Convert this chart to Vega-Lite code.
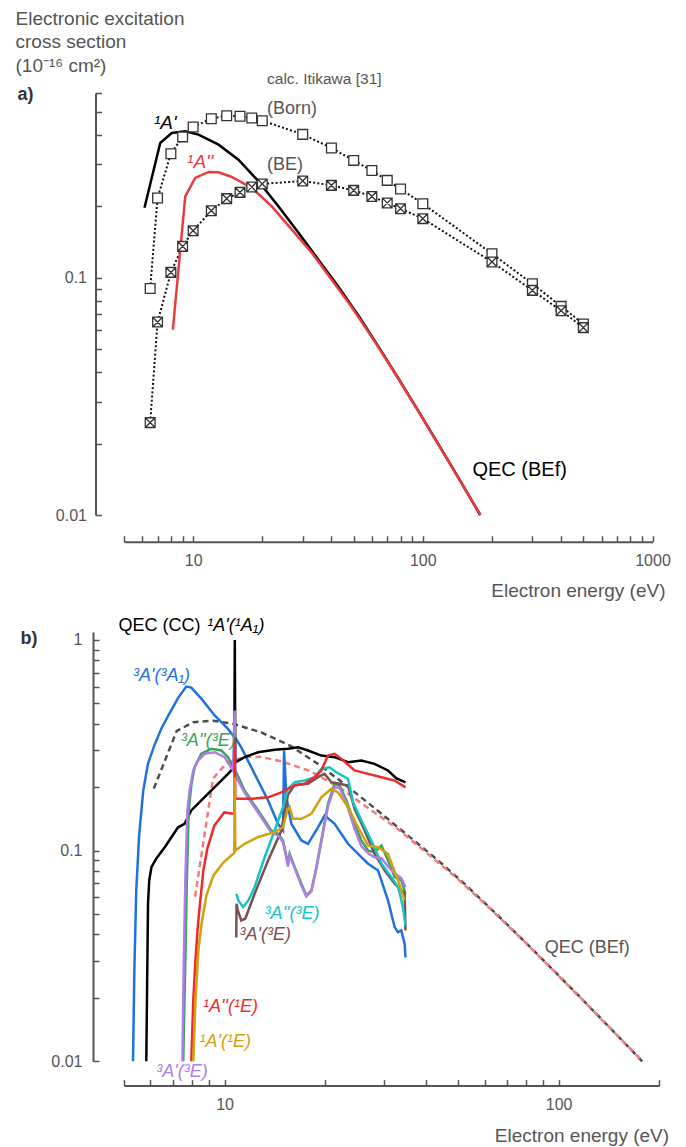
{
  "$schema": "https://vega.github.io/schema/vega-lite/v6.json",
  "background": "white",
  "padding": {"left": 15, "top": 9, "right": 5, "bottom": 5},
  "autosize": {"type": "pad"},
  "spacing": 117,
  "bounds": "flush",
  "config": {
    "view": {"stroke": null},
    "font": "Liberation Sans",
    "axis": {
      "grid": false,
      "domainColor": "#555555",
      "domainWidth": 2,
      "tickColor": "#555555",
      "tickWidth": 1.5,
      "tickSize": -6,
      "labelColor": "#555555",
      "labelFont": "Liberation Sans",
      "labelFontSize": 16,
      "labelOverlap": false,
      "labelFlush": false,
      "labelBound": false,
      "titleFont": "Liberation Sans",
      "titleFontSize": 19,
      "titleFontWeight": "normal",
      "titleColor": "#555555"
    }
  },
  "datasets": {
    "bef": [
      {"s": "1A'", "x": 6.14, "y": 0.197}, {"s": "1A'", "x": 7.19, "y": 0.3695}, {"s": "1A'", "x": 8.07, "y": 0.407}, {"s": "1A'", "x": 9.24, "y": 0.4135}, {"s": "1A'", "x": 10.55, "y": 0.4005}, {"s": "1A'", "x": 12.9, "y": 0.3635}, {"s": "1A'", "x": 15.75, "y": 0.3143}, {"s": "1A'", "x": 19.26, "y": 0.2546}, {"s": "1A'", "x": 23.5, "y": 0.1998}, {"s": "1A'", "x": 28.75, "y": 0.1547}, {"s": "1A'", "x": 35.1, "y": 0.1191}, {"s": "1A'", "x": 42.9, "y": 0.0917}, {"s": "1A'", "x": 52.5, "y": 0.0691}, {"s": "1A'", "x": 64.1, "y": 0.0512}, {"s": "1A'", "x": 78.3, "y": 0.0376}, {"s": "1A'", "x": 95.7, "y": 0.0274}, {"s": "1A'", "x": 117, "y": 0.01985}, {"s": "1A'", "x": 143, "y": 0.01433}, {"s": "1A'", "x": 177.8, "y": 0.01},
      {"s": "1A''", "x": 8.16, "y": 0.0604}, {"s": "1A''", "x": 9.24, "y": 0.22}, {"s": "1A''", "x": 10.21, "y": 0.2632}, {"s": "1A''", "x": 11.67, "y": 0.2789}, {"s": "1A''", "x": 12.9, "y": 0.2778}, {"s": "1A''", "x": 14.73, "y": 0.2657}, {"s": "1A''", "x": 18.0, "y": 0.2388}, {"s": "1A''", "x": 22.0, "y": 0.1998}, {"s": "1A''", "x": 26.9, "y": 0.1593}, {"s": "1A''", "x": 32.9, "y": 0.1271}, {"s": "1A''", "x": 40.1, "y": 0.0981}, {"s": "1A''", "x": 49.0, "y": 0.0752}, {"s": "1A''", "x": 62.0, "y": 0.0535}, {"s": "1A''", "x": 78.3, "y": 0.0375}, {"s": "1A''", "x": 95.7, "y": 0.02732}, {"s": "1A''", "x": 117, "y": 0.01981}, {"s": "1A''", "x": 143, "y": 0.01431}, {"s": "1A''", "x": 178.5, "y": 0.01}
    ],
    "itikawa": [
      {"s": "Born", "x": 6.5, "y": 0.09}, {"s": "Born", "x": 7, "y": 0.2167}, {"s": "Born", "x": 8, "y": 0.333}, {"s": "Born", "x": 9, "y": 0.392}, {"s": "Born", "x": 10, "y": 0.4315}, {"s": "Born", "x": 12, "y": 0.4677}, {"s": "Born", "x": 14, "y": 0.4816}, {"s": "Born", "x": 16, "y": 0.4785}, {"s": "Born", "x": 18, "y": 0.471}, {"s": "Born", "x": 20, "y": 0.4587}, {"s": "Born", "x": 30, "y": 0.4017}, {"s": "Born", "x": 40, "y": 0.352}, {"s": "Born", "x": 50, "y": 0.312}, {"s": "Born", "x": 60, "y": 0.283}, {"s": "Born", "x": 70, "y": 0.257}, {"s": "Born", "x": 80, "y": 0.2364}, {"s": "Born", "x": 100, "y": 0.205}, {"s": "Born", "x": 200, "y": 0.1262}, {"s": "Born", "x": 300, "y": 0.0943}, {"s": "Born", "x": 400, "y": 0.0757}, {"s": "Born", "x": 500, "y": 0.0638},
      {"s": "BE", "x": 6.5, "y": 0.0245}, {"s": "BE", "x": 7, "y": 0.065}, {"s": "BE", "x": 8, "y": 0.1053}, {"s": "BE", "x": 9, "y": 0.1355}, {"s": "BE", "x": 10, "y": 0.1578}, {"s": "BE", "x": 12, "y": 0.1916}, {"s": "BE", "x": 14, "y": 0.2153}, {"s": "BE", "x": 16, "y": 0.2288}, {"s": "BE", "x": 18, "y": 0.241}, {"s": "BE", "x": 20, "y": 0.2483}, {"s": "BE", "x": 30, "y": 0.2556}, {"s": "BE", "x": 40, "y": 0.2449}, {"s": "BE", "x": 50, "y": 0.2333}, {"s": "BE", "x": 60, "y": 0.22}, {"s": "BE", "x": 70, "y": 0.2064}, {"s": "BE", "x": 80, "y": 0.1953}, {"s": "BE", "x": 100, "y": 0.1773}, {"s": "BE", "x": 200, "y": 0.1165}, {"s": "BE", "x": 300, "y": 0.0884}, {"s": "BE", "x": 400, "y": 0.0726}, {"s": "BE", "x": 500, "y": 0.0616}
    ],
    "cc": [
      {"s": "3A'(3A1)", "x": 5.32, "y": 0.01}, {"s": "3A'(3A1)", "x": 5.37, "y": 0.027}, {"s": "3A'(3A1)", "x": 5.44, "y": 0.0646}, {"s": "3A'(3A1)", "x": 5.55, "y": 0.118}, {"s": "3A'(3A1)", "x": 5.71, "y": 0.193}, {"s": "3A'(3A1)", "x": 5.9, "y": 0.259}, {"s": "3A'(3A1)", "x": 6.16, "y": 0.315}, {"s": "3A'(3A1)", "x": 6.47, "y": 0.38}, {"s": "3A'(3A1)", "x": 6.79, "y": 0.438}, {"s": "3A'(3A1)", "x": 7.27, "y": 0.532}, {"s": "3A'(3A1)", "x": 7.68, "y": 0.6}, {"s": "3A'(3A1)", "x": 7.95, "y": 0.594}, {"s": "3A'(3A1)", "x": 8.52, "y": 0.526}, {"s": "3A'(3A1)", "x": 9.34, "y": 0.438}, {"s": "3A'(3A1)", "x": 10.24, "y": 0.378}, {"s": "3A'(3A1)", "x": 10.6, "y": 0.352}, {"s": "3A'(3A1)", "x": 10.75, "y": 0.345}, {"s": "3A'(3A1)", "x": 11.22, "y": 0.309}, {"s": "3A'(3A1)", "x": 12.3, "y": 0.2313}, {"s": "3A'(3A1)", "x": 13.5, "y": 0.1729}, {"s": "3A'(3A1)", "x": 14.45, "y": 0.134}, {"s": "3A'(3A1)", "x": 14.96, "y": 0.1245}, {"s": "3A'(3A1)", "x": 15.07, "y": 0.2985}, {"s": "3A'(3A1)", "x": 15.31, "y": 0.179}, {"s": "3A'(3A1)", "x": 15.85, "y": 0.134}, {"s": "3A'(3A1)", "x": 16.98, "y": 0.1117}, {"s": "3A'(3A1)", "x": 17.77, "y": 0.1077}, {"s": "3A'(3A1)", "x": 19.04, "y": 0.129}, {"s": "3A'(3A1)", "x": 19.93, "y": 0.1467}, {"s": "3A'(3A1)", "x": 21.35, "y": 0.134}, {"s": "3A'(3A1)", "x": 23.42, "y": 0.1077}, {"s": "3A'(3A1)", "x": 25.67, "y": 0.093}, {"s": "3A'(3A1)", "x": 26.9, "y": 0.0866}, {"s": "3A'(3A1)", "x": 28.8, "y": 0.0805}, {"s": "3A'(3A1)", "x": 30.85, "y": 0.058}, {"s": "3A'(3A1)", "x": 32.3, "y": 0.0433}, {"s": "3A'(3A1)", "x": 33.05, "y": 0.041}, {"s": "3A'(3A1)", "x": 33.8, "y": 0.0418}, {"s": "3A'(3A1)", "x": 34.6, "y": 0.0361}, {"s": "3A'(3A1)", "x": 34.8, "y": 0.0311},
      {"s": "1A'(1A1)", "x": 5.83, "y": 0.01}, {"s": "1A'(1A1)", "x": 5.9, "y": 0.056}, {"s": "1A'(1A1)", "x": 5.95, "y": 0.0722}, {"s": "1A'(1A1)", "x": 6.04, "y": 0.0834}, {"s": "1A'(1A1)", "x": 6.25, "y": 0.0918}, {"s": "1A'(1A1)", "x": 6.62, "y": 0.1038}, {"s": "1A'(1A1)", "x": 7.26, "y": 0.129}, {"s": "1A'(1A1)", "x": 7.59, "y": 0.134}, {"s": "1A'(1A1)", "x": 7.95, "y": 0.155}, {"s": "1A'(1A1)", "x": 8.52, "y": 0.173}, {"s": "1A'(1A1)", "x": 9.34, "y": 0.2}, {"s": "1A'(1A1)", "x": 10.24, "y": 0.2313}, {"s": "1A'(1A1)", "x": 10.69, "y": 0.249}, {"s": "1A'(1A1)", "x": 10.73, "y": 1.0}, {"s": "1A'(1A1)", "x": 10.77, "y": 0.262}, {"s": "1A'(1A1)", "x": 11.48, "y": 0.2775}, {"s": "1A'(1A1)", "x": 12.6, "y": 0.293}, {"s": "1A'(1A1)", "x": 14.12, "y": 0.301}, {"s": "1A'(1A1)", "x": 15.48, "y": 0.304}, {"s": "1A'(1A1)", "x": 16.59, "y": 0.309}, {"s": "1A'(1A1)", "x": 17.78, "y": 0.2985}, {"s": "1A'(1A1)", "x": 19.48, "y": 0.2825}, {"s": "1A'(1A1)", "x": 21.35, "y": 0.2775}, {"s": "1A'(1A1)", "x": 23.42, "y": 0.2627}, {"s": "1A'(1A1)", "x": 25.67, "y": 0.2676}, {"s": "1A'(1A1)", "x": 28.1, "y": 0.258}, {"s": "1A'(1A1)", "x": 30.85, "y": 0.24}, {"s": "1A'(1A1)", "x": 32.7, "y": 0.22}, {"s": "1A'(1A1)", "x": 34.8, "y": 0.2105},
      {"s": "3A''(3E)a", "x": 7.52, "y": 0.01}, {"s": "3A''(3E)a", "x": 7.63, "y": 0.0301}, {"s": "3A''(3E)a", "x": 7.71, "y": 0.0722}, {"s": "3A''(3E)a", "x": 7.81, "y": 0.155}, {"s": "3A''(3E)a", "x": 7.95, "y": 0.2037}, {"s": "3A''(3E)a", "x": 8.13, "y": 0.2487}, {"s": "3A''(3E)a", "x": 8.52, "y": 0.288}, {"s": "3A''(3E)a", "x": 9.13, "y": 0.304}, {"s": "3A''(3E)a", "x": 9.78, "y": 0.2985}, {"s": "3A''(3E)a", "x": 10.24, "y": 0.2775}, {"s": "3A''(3E)a", "x": 10.6, "y": 0.249}, {"s": "3A''(3E)a", "x": 10.77, "y": 0.24}, {"s": "3A''(3E)a", "x": 11.48, "y": 0.193}, {"s": "3A''(3E)a", "x": 12.6, "y": 0.155}, {"s": "3A''(3E)a", "x": 13.8, "y": 0.1245}, {"s": "3A''(3E)a", "x": 14.45, "y": 0.1202}, {"s": "3A''(3E)a", "x": 14.96, "y": 0.1117}, {"s": "3A''(3E)a", "x": 15.48, "y": 0.0866}, {"s": "3A''(3E)a", "x": 15.66, "y": 0.0966}, {"s": "3A''(3E)a", "x": 16.22, "y": 0.0834}, {"s": "3A''(3E)a", "x": 16.98, "y": 0.0696}, {"s": "3A''(3E)a", "x": 17.57, "y": 0.0612}, {"s": "3A''(3E)a", "x": 18.19, "y": 0.0647}, {"s": "3A''(3E)a", "x": 18.83, "y": 0.0834}, {"s": "3A''(3E)a", "x": 19.48, "y": 0.1117}, {"s": "3A''(3E)a", "x": 20.4, "y": 0.1667}, {"s": "3A''(3E)a", "x": 21.35, "y": 0.2075}, {"s": "3A''(3E)a", "x": 22.1, "y": 0.2037}, {"s": "3A''(3E)a", "x": 23.16, "y": 0.173}, {"s": "3A''(3E)a", "x": 24.5, "y": 0.134}, {"s": "3A''(3E)a", "x": 25.67, "y": 0.1117}, {"s": "3A''(3E)a", "x": 26.9, "y": 0.1}, {"s": "3A''(3E)a", "x": 28.1, "y": 0.0983}, {"s": "3A''(3E)a", "x": 29.5, "y": 0.1057}, {"s": "3A''(3E)a", "x": 30.85, "y": 0.0898}, {"s": "3A''(3E)a", "x": 32.3, "y": 0.0748}, {"s": "3A''(3E)a", "x": 33.8, "y": 0.0722}, {"s": "3A''(3E)a", "x": 34.8, "y": 0.0624},
      {"s": "3A'(3E)b", "x": 10.84, "y": 0.0387}, {"s": "3A'(3E)b", "x": 10.86, "y": 0.0559}, {"s": "3A'(3E)b", "x": 10.96, "y": 0.052}, {"s": "3A'(3E)b", "x": 11.22, "y": 0.0466}, {"s": "3A'(3E)b", "x": 11.54, "y": 0.0476}, {"s": "3A'(3E)b", "x": 12.3, "y": 0.0624}, {"s": "3A'(3E)b", "x": 13.5, "y": 0.0898}, {"s": "3A'(3E)b", "x": 14.79, "y": 0.1245}, {"s": "3A'(3E)b", "x": 15.48, "y": 0.184}, {"s": "3A'(3E)b", "x": 16.22, "y": 0.205}, {"s": "3A'(3E)b", "x": 17.77, "y": 0.2075}, {"s": "3A'(3E)b", "x": 19.04, "y": 0.2231}, {"s": "3A'(3E)b", "x": 19.93, "y": 0.2313}, {"s": "3A'(3E)b", "x": 20.88, "y": 0.2111}, {"s": "3A'(3E)b", "x": 22.1, "y": 0.2075}, {"s": "3A'(3E)b", "x": 23.42, "y": 0.2037}, {"s": "3A'(3E)b", "x": 24.5, "y": 0.158}, {"s": "3A'(3E)b", "x": 26.26, "y": 0.1245}, {"s": "3A'(3E)b", "x": 28.1, "y": 0.0966}, {"s": "3A'(3E)b", "x": 30.15, "y": 0.0805}, {"s": "3A'(3E)b", "x": 32.3, "y": 0.0696}, {"s": "3A'(3E)b", "x": 34.6, "y": 0.0624}, {"s": "3A'(3E)b", "x": 34.8, "y": 0.0418},
      {"s": "3A''(3E)b", "x": 10.85, "y": 0.0624}, {"s": "3A''(3E)b", "x": 11.0, "y": 0.058}, {"s": "3A''(3E)b", "x": 11.36, "y": 0.054}, {"s": "3A''(3E)b", "x": 11.78, "y": 0.058}, {"s": "3A''(3E)b", "x": 12.3, "y": 0.067}, {"s": "3A''(3E)b", "x": 13.18, "y": 0.093}, {"s": "3A''(3E)b", "x": 14.12, "y": 0.1245}, {"s": "3A''(3E)b", "x": 14.96, "y": 0.1607}, {"s": "3A''(3E)b", "x": 15.48, "y": 0.1964}, {"s": "3A''(3E)b", "x": 16.22, "y": 0.2111}, {"s": "3A''(3E)b", "x": 17.37, "y": 0.215}, {"s": "3A''(3E)b", "x": 18.6, "y": 0.2231}, {"s": "3A''(3E)b", "x": 19.48, "y": 0.2443}, {"s": "3A''(3E)b", "x": 20.63, "y": 0.2487}, {"s": "3A''(3E)b", "x": 21.6, "y": 0.2354}, {"s": "3A''(3E)b", "x": 23.42, "y": 0.2192}, {"s": "3A''(3E)b", "x": 24.24, "y": 0.17}, {"s": "3A''(3E)b", "x": 25.67, "y": 0.139}, {"s": "3A''(3E)b", "x": 27.5, "y": 0.1117}, {"s": "3A''(3E)b", "x": 29.5, "y": 0.0866}, {"s": "3A''(3E)b", "x": 31.6, "y": 0.0748}, {"s": "3A''(3E)b", "x": 33.1, "y": 0.067}, {"s": "3A''(3E)b", "x": 34.2, "y": 0.0539}, {"s": "3A''(3E)b", "x": 34.8, "y": 0.0441},
      {"s": "3A'(3E)a", "x": 7.48, "y": 0.01}, {"s": "3A'(3E)a", "x": 7.55, "y": 0.0301}, {"s": "3A'(3E)a", "x": 7.63, "y": 0.0722}, {"s": "3A'(3E)a", "x": 7.74, "y": 0.155}, {"s": "3A'(3E)a", "x": 7.86, "y": 0.193}, {"s": "3A'(3E)a", "x": 8.06, "y": 0.24}, {"s": "3A'(3E)a", "x": 8.33, "y": 0.2676}, {"s": "3A'(3E)a", "x": 8.72, "y": 0.288}, {"s": "3A'(3E)a", "x": 9.34, "y": 0.293}, {"s": "3A'(3E)a", "x": 10.0, "y": 0.2775}, {"s": "3A'(3E)a", "x": 10.6, "y": 0.24}, {"s": "3A'(3E)a", "x": 10.72, "y": 0.462}, {"s": "3A'(3E)a", "x": 10.77, "y": 0.227}, {"s": "3A'(3E)a", "x": 11.48, "y": 0.1887}, {"s": "3A'(3E)a", "x": 12.6, "y": 0.1516}, {"s": "3A'(3E)a", "x": 13.8, "y": 0.122}, {"s": "3A'(3E)a", "x": 14.45, "y": 0.118}, {"s": "3A'(3E)a", "x": 14.96, "y": 0.11}, {"s": "3A'(3E)a", "x": 15.48, "y": 0.084}, {"s": "3A'(3E)a", "x": 15.66, "y": 0.095}, {"s": "3A'(3E)a", "x": 16.22, "y": 0.0823}, {"s": "3A'(3E)a", "x": 16.98, "y": 0.068}, {"s": "3A'(3E)a", "x": 17.57, "y": 0.0606}, {"s": "3A'(3E)a", "x": 18.19, "y": 0.064}, {"s": "3A'(3E)a", "x": 18.83, "y": 0.0823}, {"s": "3A'(3E)a", "x": 19.48, "y": 0.11}, {"s": "3A'(3E)a", "x": 20.4, "y": 0.162}, {"s": "3A'(3E)a", "x": 21.35, "y": 0.2}, {"s": "3A'(3E)a", "x": 22.1, "y": 0.198}, {"s": "3A'(3E)a", "x": 23.16, "y": 0.168}, {"s": "3A'(3E)a", "x": 24.5, "y": 0.127}, {"s": "3A'(3E)a", "x": 25.67, "y": 0.105}, {"s": "3A'(3E)a", "x": 26.9, "y": 0.097}, {"s": "3A'(3E)a", "x": 28.1, "y": 0.093}, {"s": "3A'(3E)a", "x": 29.5, "y": 0.092}, {"s": "3A'(3E)a", "x": 30.85, "y": 0.084}, {"s": "3A'(3E)a", "x": 32.3, "y": 0.0778}, {"s": "3A'(3E)a", "x": 33.8, "y": 0.074}, {"s": "3A'(3E)a", "x": 34.8, "y": 0.0669},
      {"s": "1A''(1E)", "x": 7.95, "y": 0.01}, {"s": "1A''(1E)", "x": 8.06, "y": 0.0194}, {"s": "1A''(1E)", "x": 8.18, "y": 0.0301}, {"s": "1A''(1E)", "x": 8.32, "y": 0.0441}, {"s": "1A''(1E)", "x": 8.46, "y": 0.058}, {"s": "1A''(1E)", "x": 8.64, "y": 0.0804}, {"s": "1A''(1E)", "x": 8.88, "y": 0.1023}, {"s": "1A''(1E)", "x": 9.32, "y": 0.1315}, {"s": "1A''(1E)", "x": 9.98, "y": 0.1517}, {"s": "1A''(1E)", "x": 10.48, "y": 0.15}, {"s": "1A''(1E)", "x": 10.69, "y": 0.15}, {"s": "1A''(1E)", "x": 10.72, "y": 0.344}, {"s": "1A''(1E)", "x": 10.77, "y": 0.1767}, {"s": "1A''(1E)", "x": 10.97, "y": 0.176}, {"s": "1A''(1E)", "x": 12.03, "y": 0.176}, {"s": "1A''(1E)", "x": 13.5, "y": 0.179}, {"s": "1A''(1E)", "x": 14.79, "y": 0.189}, {"s": "1A''(1E)", "x": 16.22, "y": 0.2037}, {"s": "1A''(1E)", "x": 17.37, "y": 0.2075}, {"s": "1A''(1E)", "x": 18.6, "y": 0.2229}, {"s": "1A''(1E)", "x": 19.48, "y": 0.24}, {"s": "1A''(1E)", "x": 20.4, "y": 0.2827}, {"s": "1A''(1E)", "x": 21.35, "y": 0.288}, {"s": "1A''(1E)", "x": 22.37, "y": 0.2725}, {"s": "1A''(1E)", "x": 24.5, "y": 0.24}, {"s": "1A''(1E)", "x": 26.9, "y": 0.2313}, {"s": "1A''(1E)", "x": 29.5, "y": 0.2231}, {"s": "1A''(1E)", "x": 32.3, "y": 0.215}, {"s": "1A''(1E)", "x": 34.8, "y": 0.1995},
      {"s": "1A'(1E)", "x": 8.06, "y": 0.01}, {"s": "1A'(1E)", "x": 8.18, "y": 0.0194}, {"s": "1A'(1E)", "x": 8.35, "y": 0.0336}, {"s": "1A'(1E)", "x": 8.52, "y": 0.0441}, {"s": "1A'(1E)", "x": 8.82, "y": 0.0612}, {"s": "1A'(1E)", "x": 9.26, "y": 0.0762}, {"s": "1A'(1E)", "x": 9.92, "y": 0.0878}, {"s": "1A'(1E)", "x": 10.55, "y": 0.0958}, {"s": "1A'(1E)", "x": 10.69, "y": 0.097}, {"s": "1A'(1E)", "x": 10.72, "y": 0.223}, {"s": "1A'(1E)", "x": 10.77, "y": 0.1}, {"s": "1A'(1E)", "x": 11.48, "y": 0.1077}, {"s": "1A'(1E)", "x": 12.6, "y": 0.116}, {"s": "1A'(1E)", "x": 14.12, "y": 0.1223}, {"s": "1A'(1E)", "x": 14.96, "y": 0.129}, {"s": "1A'(1E)", "x": 15.41, "y": 0.155}, {"s": "1A'(1E)", "x": 15.66, "y": 0.1607}, {"s": "1A'(1E)", "x": 16.03, "y": 0.1415}, {"s": "1A'(1E)", "x": 16.98, "y": 0.1415}, {"s": "1A'(1E)", "x": 18.19, "y": 0.1495}, {"s": "1A'(1E)", "x": 19.48, "y": 0.179}, {"s": "1A'(1E)", "x": 20.88, "y": 0.1964}, {"s": "1A'(1E)", "x": 21.86, "y": 0.189}, {"s": "1A'(1E)", "x": 23.42, "y": 0.1607}, {"s": "1A'(1E)", "x": 25.09, "y": 0.129}, {"s": "1A'(1E)", "x": 26.9, "y": 0.1057}, {"s": "1A'(1E)", "x": 28.8, "y": 0.1038}, {"s": "1A'(1E)", "x": 30.85, "y": 0.0966}, {"s": "1A'(1E)", "x": 33.05, "y": 0.0722}, {"s": "1A'(1E)", "x": 34.6, "y": 0.058}
    ]
  },
  "vconcat": [
    {
      "width": 528.5,
      "height": 422,
      "encoding": {
        "x": {
          "field": "x", "type": "quantitative",
          "scale": {"type": "log", "domain": [5, 1000], "nice": false},
          "axis": {
            "values": [5, 6, 7, 8, 9, 10, 20, 30, 40, 50, 60, 70, 80, 90, 100, 200, 300, 400, 500, 600, 700, 800, 900, 1000],
            "offset": 26.7,
            "labelExpr": "indexof([0.01,0.1,1,10,100,1000], datum.value) >= 0 ? '' + datum.value : ''",
            "labelPadding": 16.4,
            "title": "Electron energy (eV)",
            "titleX": 541,
            "titleY": 55,
            "titleAlign": "right",
            "titleBaseline": "alphabetic"
          }
        },
        "y": {
          "field": "y", "type": "quantitative",
          "scale": {"type": "log", "domain": [0.01, 0.6], "nice": false},
          "axis": {
            "values": [0.01, 0.02, 0.03, 0.04, 0.05, 0.06, 0.07, 0.08, 0.09, 0.1, 0.2, 0.3, 0.4, 0.5, 0.6],
            "offset": 28.5,
            "labelExpr": "indexof([0.01,0.1,1,10,100,1000], datum.value) >= 0 ? '' + datum.value : ''",
            "labelPadding": 15,
            "title": ["Electronic excitation", "cross section", "(10⁻¹⁶ cm²)"],
            "titleAngle": 0,
            "titleAlign": "left",
            "titleBaseline": "top",
            "titleX": -80.5,
            "titleY": -84,
            "titleLineHeight": 23.5
          }
        }
      },
      "layer": [
        {"data": {"name": "itikawa"}, "transform": [{"filter": "datum.s == 'Born'"}], "mark": {"type": "line", "color": "#111111", "strokeWidth": 2, "strokeDash": [2, 2.2]}},
        {"data": {"name": "itikawa"}, "transform": [{"filter": "datum.s == 'BE'"}], "mark": {"type": "line", "color": "#111111", "strokeWidth": 2, "strokeDash": [2, 2.2]}},
        {"data": {"name": "bef"}, "transform": [{"filter": "datum.s == \"1A'\""}], "mark": {"type": "line", "color": "#000000", "strokeWidth": 2.5}},
        {"data": {"name": "bef"}, "transform": [{"filter": "datum.s == \"1A''\""}], "mark": {"type": "line", "color": "#ea3b3f", "strokeWidth": 2.5}},
        {"data": {"name": "itikawa"}, "transform": [{"filter": "datum.s == 'Born'"}], "mark": {"type": "point", "shape": "square", "size": 95, "filled": true, "fill": "white", "stroke": "#333333", "strokeWidth": 1.3, "opacity": 1}},
        {"data": {"name": "itikawa"}, "transform": [{"filter": "datum.s == 'BE'"}], "mark": {"type": "point", "shape": "M-1,-1H1V1H-1Z M-1,-1L1,1 M1,-1L-1,1", "size": 95, "filled": true, "fill": "white", "stroke": "#333333", "strokeWidth": 1.3, "opacity": 1}},
        {"data": {"values": [{"label": "¹A'", "x": 6.75, "y": 0.4245}]}, "mark": {"type": "text", "align": "left", "baseline": "alphabetic", "fontSize": 19, "fontStyle": "italic", "color": "#000000"}, "encoding": {"text": {"field": "label"}}},
        {"data": {"values": [{"label": "¹A''", "x": 9.41, "y": 0.2908}]}, "mark": {"type": "text", "align": "left", "baseline": "alphabetic", "fontSize": 19, "fontStyle": "italic", "color": "#ea3b3f"}, "encoding": {"text": {"field": "label"}}},
        {"data": {"values": [{"label": "(Born)", "x": 20.97, "y": 0.491}, {"label": "(BE)", "x": 20.97, "y": 0.285}]}, "mark": {"type": "text", "align": "left", "baseline": "alphabetic", "fontSize": 18, "color": "#555555"}, "encoding": {"text": {"field": "label"}}},
        {"data": {"values": [{"label": "calc. Itikawa [31]", "x": 20.97, "y": 0.657}]}, "mark": {"type": "text", "align": "left", "baseline": "alphabetic", "fontSize": 15.5, "color": "#555555"}, "encoding": {"text": {"field": "label"}}},
        {"data": {"values": [{"label": "QEC (BEf)", "x": 164.5, "y": 0.01464}]}, "mark": {"type": "text", "align": "left", "baseline": "alphabetic", "fontSize": 20, "color": "#000000"}, "encoding": {"text": {"field": "label"}}},
        {"data": {"values": [{"label": "a)", "x": 1.72, "y": 0.5625}]}, "mark": {"type": "text", "align": "left", "baseline": "alphabetic", "fontSize": 18, "fontWeight": "bold", "color": "#333333"}, "encoding": {"text": {"field": "label"}}}
      ]
    },
    {
      "width": 535.2,
      "height": 429.3,
      "encoding": {
        "x": {
          "field": "x", "type": "quantitative",
          "scale": {"type": "log", "domain": [5, 200], "nice": false},
          "axis": {
            "values": [5, 6, 7, 8, 9, 10, 20, 30, 40, 50, 60, 70, 80, 90, 100, 200],
            "offset": 24.3,
            "labelExpr": "indexof([0.01,0.1,1,10,100,1000], datum.value) >= 0 ? '' + datum.value : ''",
            "labelPadding": 16.4,
            "title": "Electron energy (eV)",
            "titleX": 544.6,
            "titleY": 55.4,
            "titleAlign": "right",
            "titleBaseline": "alphabetic"
          }
        },
        "y": {
          "field": "y", "type": "quantitative",
          "scale": {"type": "log", "domain": [0.01, 1.09], "nice": false},
          "axis": {
            "values": [0.01, 0.02, 0.03, 0.04, 0.05, 0.06, 0.07, 0.08, 0.09, 0.1, 0.2, 0.3, 0.4, 0.5, 0.6, 0.7, 0.8, 0.9, 1],
            "offset": 31,
            "labelExpr": "indexof([0.01,0.1,1,10,100,1000], datum.value) >= 0 ? '' + datum.value : ''",
            "labelPadding": 17,
            "title": null
          }
        }
      },
      "layer": [
        {"data": {"name": "bef"}, "transform": [{"filter": "datum.s == \"1A'\""}], "mark": {"type": "line", "color": "#4d4d4d", "strokeWidth": 2.5, "strokeDash": [6, 4]}},
        {"data": {"name": "bef"}, "transform": [{"filter": "datum.s == \"1A''\""}], "mark": {"type": "line", "color": "#f27b7b", "strokeWidth": 2.5, "strokeDash": [6, 4]}},
        {"data": {"name": "cc"}, "transform": [{"filter": "datum.s == \"3A'(3A1)\""}], "mark": {"type": "line", "color": "#2272de", "strokeWidth": 2.5}, "encoding": {"order": {"value": null}}},
        {"data": {"name": "cc"}, "transform": [{"filter": "datum.s == \"1A'(1A1)\""}], "mark": {"type": "line", "color": "#000000", "strokeWidth": 2.5}, "encoding": {"order": {"value": null}}},
        {"data": {"name": "cc"}, "transform": [{"filter": "datum.s == \"3A''(3E)a\""}], "mark": {"type": "line", "color": "#3aa35e", "strokeWidth": 2.5}, "encoding": {"order": {"value": null}}},
        {"data": {"name": "cc"}, "transform": [{"filter": "datum.s == \"3A'(3E)b\""}], "mark": {"type": "line", "color": "#7c5050", "strokeWidth": 2.5}, "encoding": {"order": {"value": null}}},
        {"data": {"name": "cc"}, "transform": [{"filter": "datum.s == \"3A''(3E)b\""}], "mark": {"type": "line", "color": "#14c4c4", "strokeWidth": 2.5}, "encoding": {"order": {"value": null}}},
        {"data": {"name": "cc"}, "transform": [{"filter": "datum.s == \"3A'(3E)a\""}], "mark": {"type": "line", "color": "#b07ce6", "strokeWidth": 2.5}, "encoding": {"order": {"value": null}}},
        {"data": {"name": "cc"}, "transform": [{"filter": "datum.s == \"1A''(1E)\""}], "mark": {"type": "line", "color": "#ef2a2a", "strokeWidth": 2.5}, "encoding": {"order": {"value": null}}},
        {"data": {"name": "cc"}, "transform": [{"filter": "datum.s == \"1A'(1E)\""}], "mark": {"type": "line", "color": "#d3a10f", "strokeWidth": 2.5}, "encoding": {"order": {"value": null}}},
        {"data": {"values": [{"label": "QEC (CC)", "x": 4.81, "y": 1.107}]}, "mark": {"type": "text", "align": "left", "baseline": "alphabetic", "fontSize": 18, "color": "#000000"}, "encoding": {"text": {"field": "label"}}},
        {"data": {"values": [{"label": "¹A'(¹A₁)", "x": 8.88, "y": 1.107}]}, "mark": {"type": "text", "align": "left", "baseline": "alphabetic", "fontSize": 18, "fontStyle": "italic", "color": "#000000"}, "encoding": {"text": {"field": "label"}}},
        {"data": {"values": [{"label": "³A'(³A₁)", "x": 5.32, "y": 0.641}]}, "mark": {"type": "text", "align": "left", "baseline": "alphabetic", "fontSize": 18, "fontStyle": "italic", "color": "#2272de"}, "encoding": {"text": {"field": "label"}}},
        {"data": {"values": [{"label": "³A''(³E)", "x": 7.4, "y": 0.315}]}, "mark": {"type": "text", "align": "left", "baseline": "alphabetic", "fontSize": 18, "fontStyle": "italic", "color": "#3aa35e"}, "encoding": {"text": {"field": "label"}}},
        {"data": {"values": [{"label": "³A''(³E)", "x": 13.18, "y": 0.0476}]}, "mark": {"type": "text", "align": "left", "baseline": "alphabetic", "fontSize": 18, "fontStyle": "italic", "color": "#14c4c4"}, "encoding": {"text": {"field": "label"}}},
        {"data": {"values": [{"label": "³A'(³E)", "x": 11.09, "y": 0.0375}]}, "mark": {"type": "text", "align": "left", "baseline": "alphabetic", "fontSize": 18, "fontStyle": "italic", "color": "#7c5050"}, "encoding": {"text": {"field": "label"}}},
        {"data": {"values": [{"label": "¹A''(¹E)", "x": 8.62, "y": 0.01706}]}, "mark": {"type": "text", "align": "left", "baseline": "alphabetic", "fontSize": 18, "fontStyle": "italic", "color": "#ef2a2a"}, "encoding": {"text": {"field": "label"}}},
        {"data": {"values": [{"label": "¹A'(¹E)", "x": 8.42, "y": 0.01164}]}, "mark": {"type": "text", "align": "left", "baseline": "alphabetic", "fontSize": 18, "fontStyle": "italic", "color": "#d3a10f"}, "encoding": {"text": {"field": "label"}}},
        {"data": {"values": [{"label": "³A'(³E)", "x": 6.25, "y": 0.00839}]}, "mark": {"type": "text", "align": "left", "baseline": "alphabetic", "fontSize": 18, "fontStyle": "italic", "color": "#b07ce6"}, "encoding": {"text": {"field": "label"}}},
        {"data": {"values": [{"label": "QEC (BEf)", "x": 90.8, "y": 0.0325}]}, "mark": {"type": "text", "align": "left", "baseline": "alphabetic", "fontSize": 18, "color": "#555555"}, "encoding": {"text": {"field": "label"}}},
        {"data": {"values": [{"label": "b)", "x": 2.45, "y": 0.96}]}, "mark": {"type": "text", "align": "left", "baseline": "alphabetic", "fontSize": 18, "fontWeight": "bold", "color": "#333333"}, "encoding": {"text": {"field": "label"}}}
      ]
    }
  ]
}
